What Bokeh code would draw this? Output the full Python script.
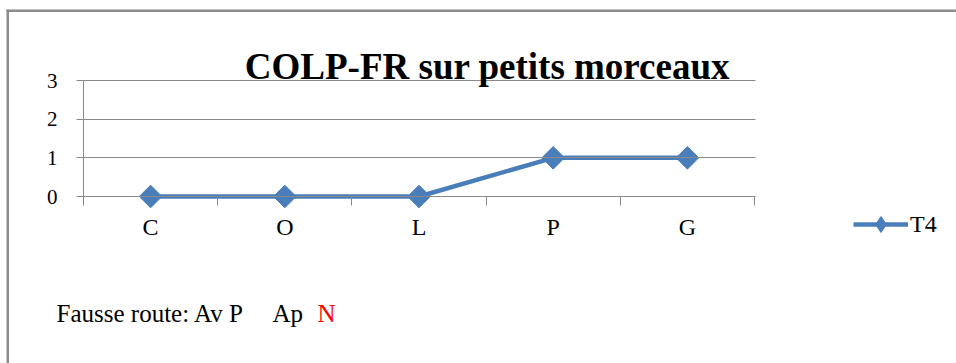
from bokeh.plotting import figure
from bokeh.models import (Range1d, FixedTicker, Legend, LegendItem, Label,
                          BoxAnnotation)
from bokeh.core.properties import value
from bokeh.embed import file_html
from bokeh.resources import INLINE

# Data
categories = ["C", "O", "L", "P", "G"]
t4_values = [0, 0, 0, 1, 1]
y_ticks = [0, 1, 2, 3]

BLUE = "#4A7EBB"
GRID = "#898989"
SERIF = "Liberation Serif"

W, H = 956, 363
# plot area in pixels: x 83..754 for 5 categories, y=3 at 80 and y=0 at 196
PX_X = (754 - 83) / len(categories)
PX_Y = (196 - 80) / 3

x_pos = [i + 0.5 for i in range(len(categories))]
boundaries = list(range(len(categories) + 1))

# The frame covers the whole canvas; axes are pinned inside it
p = figure(width=W, height=H, output_backend="svg", toolbar_location=None,
           x_range=Range1d(-83 / PX_X, (W - 83) / PX_X),
           y_range=Range1d(-(H - 196) / PX_Y, 3 + 80 / PX_Y),
           min_border=0)
p.outline_line_color = None
p.background_fill_color = "white"
p.border_fill_color = "white"
p.xgrid.visible = False
p.ygrid.visible = False

# Y axis line and ticks; ticks extend across the plot to act as gridlines
ya = p.yaxis[0]
ya.fixed_location = 0
ya.bounds = (-0.23, 3)
ya.ticker = FixedTicker(ticks=y_ticks)
ya.axis_line_color = GRID
ya.major_tick_line_color = GRID
ya.major_tick_out = 7
ya.major_tick_in = 672
ya.minor_tick_line_color = None
ya.major_label_text_font_size = "0px"
ya.major_label_text_color = None

# Y tick labels, right-aligned to the left of the axis
p.text(x=[0] * len(y_ticks), y=y_ticks, text=[str(t) for t in y_ticks],
       x_offset=-26, text_align="right", text_baseline="middle",
       text_font=value(SERIF), text_font_size=value("21px"),
       text_color="black")

# X axis sits on y = 0, ticks between categories
xa = p.xaxis[0]
xa.fixed_location = 0
xa.bounds = (0, len(categories))
xa.ticker = FixedTicker(ticks=x_pos, minor_ticks=boundaries)
xa.major_label_overrides = {x: c for x, c in zip(x_pos, categories)}
xa.axis_line_color = GRID
xa.major_tick_out = 0
xa.major_tick_in = 0
xa.minor_tick_line_color = GRID
xa.minor_tick_out = 9
xa.minor_tick_in = 0
xa.major_label_text_font = SERIF
xa.major_label_text_font_size = "24px"
xa.major_label_text_color = "black"
xa.major_label_standoff = 8

# Series
ln = p.line(x_pos, t4_values, line_color=BLUE, line_width=4.5)
# small diamonds under the markers give the legend its swatch
key = p.scatter(x_pos, t4_values, marker="diamond", size=4,
                fill_color=BLUE, line_color=BLUE)
mk = p.scatter(x_pos, t4_values, marker="square", angle=0.7853981634,
               size=16, fill_color=BLUE, line_color=BLUE)

legend = Legend(items=[LegendItem(label="T4", renderers=[ln, key])],
                location=(853, 119), glyph_width=55, glyph_height=40,
                label_standoff=2, padding=0, margin=0, spacing=0,
                border_line_color=None, background_fill_alpha=0,
                label_text_font=SERIF, label_text_font_size="24px",
                label_text_color="black")
p.add_layout(legend, "center")

# Title
p.add_layout(Label(x=487, y=H - 66, x_units="screen", y_units="screen",
                   text="COLP-FR sur petits morceaux", text_align="center",
                   text_baseline="alphabetic", text_font=SERIF,
                   text_font_style="bold", text_font_size="37px",
                   text_color="black"))

# Footnote
foot = [("Fausse route: Av P", 56, "black"), ("Ap", 272, "black"),
        ("N", 317, "red")]
for txt, fx, col in foot:
    p.add_layout(Label(x=fx, y=H - 313, x_units="screen", y_units="screen",
                       text=txt, text_baseline="alphabetic", text_color=col,
                       text_font=SERIF, text_font_size="25px"))

# Chart border (left and top edges)
p.add_layout(BoxAnnotation(left=6, right=8.5, bottom=-5, top=H - 9,
                           left_units="screen", right_units="screen",
                           bottom_units="screen", top_units="screen",
                           fill_color="#8C8C8C", fill_alpha=1, line_color=None))
p.add_layout(BoxAnnotation(left=6, right=W + 5, bottom=H - 11.5, top=H - 9,
                           left_units="screen", right_units="screen",
                           bottom_units="screen", top_units="screen",
                           fill_color="#8C8C8C", fill_alpha=1, line_color=None))

open("out.html", "w").write(file_html(p, INLINE))
